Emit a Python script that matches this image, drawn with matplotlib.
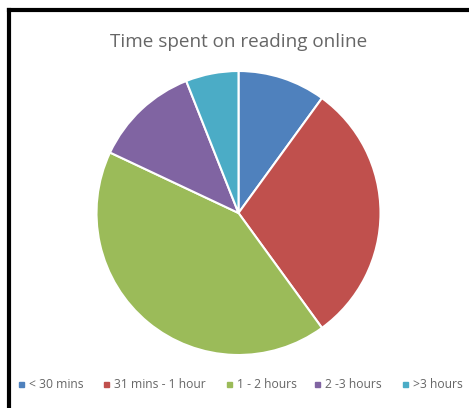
import matplotlib
matplotlib.use("Agg")
import matplotlib.pyplot as plt
from matplotlib.lines import Line2D

categories = ["< 30 mins", "31 mins - 1 hour", "1 - 2 hours", "2 -3 hours", ">3 hours"]
values = [10, 30, 42, 12, 6]
colors = ["#4F81BD", "#C0504D", "#9BBB59", "#8064A2", "#4BACC6"]
title = "Time spent on reading online"

W, H = 469, 408
fig = plt.figure(figsize=(W / 100, H / 100), dpi=100)
fig.patch.set_facecolor("white")

# black frame (top and left visible)
fig.add_artist(Line2D([9 / W, 9 / W], [0, 1 - 10 / H], color="black", lw=3, transform=fig.transFigure))
fig.add_artist(Line2D([9 / W, 1], [1 - 10 / H, 1 - 10 / H], color="black", lw=3, transform=fig.transFigure))

cx, cy, r = 238.5, 213, 142
ax = fig.add_axes([(cx - r) / W, (H - cy - r) / H, 2 * r / W, 2 * r / H])
wedges, _ = ax.pie(values, colors=colors, startangle=90, counterclock=False,
                   wedgeprops=dict(edgecolor="white", linewidth=1.5))
ax.set_aspect("equal")
ax.set_xlim(-1, 1)
ax.set_ylim(-1, 1)
ax.axis("off")

fig.text(cx / W, 1 - 42 / H, title, ha="center", va="center", fontsize=13.6,
         color="#666666", family="Open Sans")

# legend
leg_x = [21, 106, 229, 317, 405]
for x, lab, c in zip(leg_x, categories, colors):
    fig.patches.append(plt.Rectangle(((x - 2.5) / W, (H - 384 - 2.5) / H), 5 / W, 5 / H,
                                     color=c, transform=fig.transFigure))
    fig.text((x + 8) / W, 1 - 384 / H, lab, ha="left", va="center", fontsize=8.7,
             color="#666666", family="Open Sans")

fig.savefig("out.png", dpi=100)
